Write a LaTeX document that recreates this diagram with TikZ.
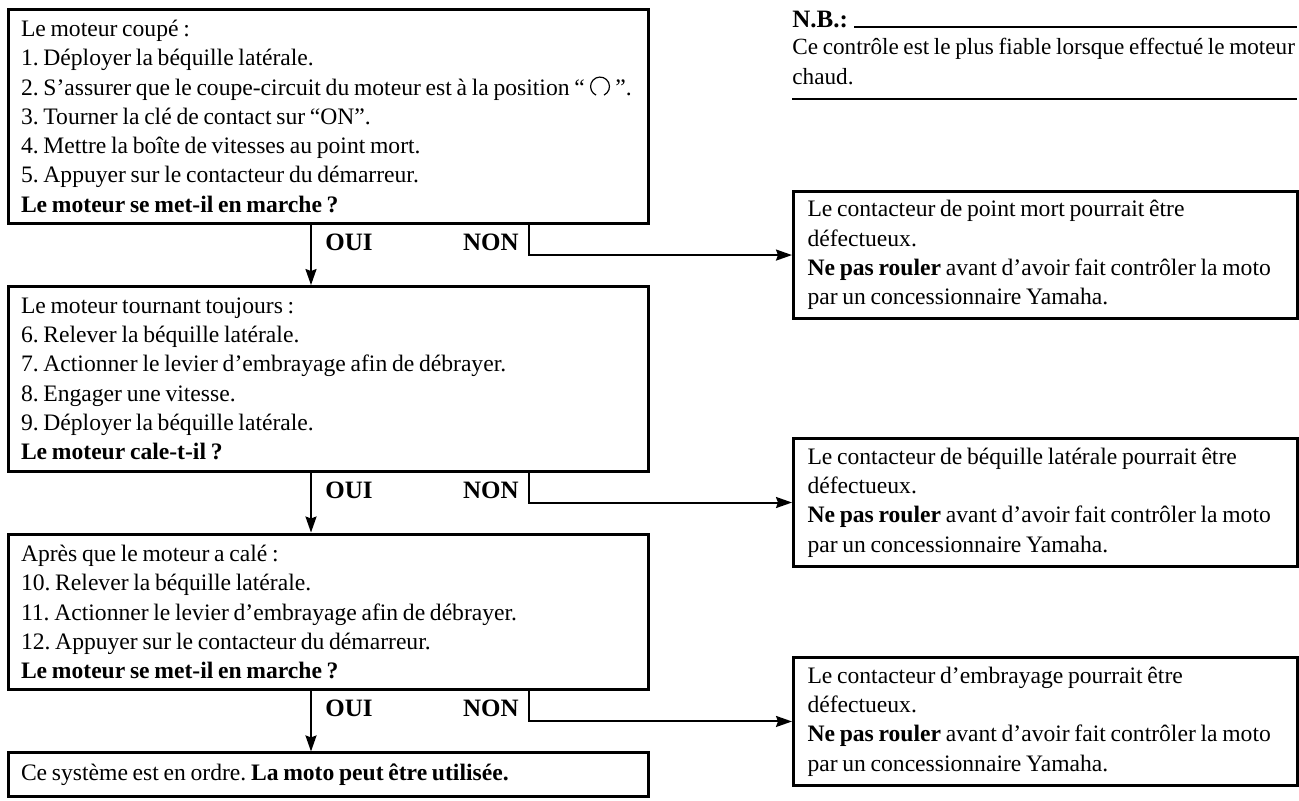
\documentclass[tikz,border=0pt]{standalone}
\usepackage{fontspec}
\setmainfont{Liberation Serif}[WordSpace=0.8]
\usetikzlibrary{arrows.meta, positioning, calc}

\newcommand{\offsym}{\tikz[baseline=-0.36em, x=1cm, y=1cm]\draw[line width=0.6pt] (-65:0.4em) arc (-65:245:0.4em);}
\frenchspacing

\begin{document}
\begin{tikzpicture}[
    x=0.5pt, y=-0.5pt,
    node distance=30pt,
    txt/.style={font=\fontsize{11.8}{14.65}\selectfont},
    stepbox/.style={txt, rectangle, draw, line width=1.5pt, align=justify,
                text width=307pt, inner xsep=6.5pt, inner ysep=5.5pt},
    notebox/.style={txt, rectangle, draw, line width=1.5pt, align=justify,
                text width=238pt, inner xsep=7pt, inner ysep=4.5pt},
    lbl/.style={font=\fontsize{12.5}{14.65}\selectfont\bfseries, inner sep=0pt},
    rule/.style={line width=1pt},
    arr/.style={-{Stealth[length=8pt, width=5.5pt, inset=1pt]}, line width=1pt}
]
\useasboundingbox (0,0) rectangle (1299,800);

\coordinate (oui) at (311,0);
\coordinate (non) at (529,0);
\coordinate (rx)  at (792,0);
\coordinate (rr)  at (1297,0);

% left column
\node[stepbox, anchor=north west] (b1) at (6.5,7.5) {Le moteur coupé :\\1. Déployer la béquille latérale.\\2. S’assurer que le coupe-circuit du moteur est à la position “\,\offsym\,”.\\3. Tourner la clé de contact sur “ON”.\\4. Mettre la boîte de vitesses au point mort.\\5. Appuyer sur le contacteur du démarreur.\\\textbf{Le moteur se met-il en marche ?}};
\node[stepbox, below=of b1] (b2) {Le moteur tournant toujours :\\6. Relever la béquille latérale.\\7. Actionner le levier d’embrayage afin de débrayer.\\8. Engager une vitesse.\\9. Déployer la béquille latérale.\\\textbf{Le moteur cale-t-il ?}};
\node[stepbox, below=of b2] (b3) {Après que le moteur a calé :\\10. Relever la béquille latérale.\\11. Actionner le levier d’embrayage afin de débrayer.\\12. Appuyer sur le contacteur du démarreur.\\\textbf{Le moteur se met-il en marche ?}};
\node[stepbox, below=of b3] (b4) {Ce système est en ordre. \textbf{La moto peut être utilisée.}};

\coordinate (m1) at ($(b1.south)!0.5!(b2.north)$);
\coordinate (m2) at ($(b2.south)!0.5!(b3.north)$);
\coordinate (m3) at ($(b3.south)!0.5!(b4.north)$);

% right column
\node[notebox, anchor=west] (r1) at (m1 -| rx) {Le contacteur de point mort pourrait être\\défectueux.\\\textbf{Ne pas rouler} avant d’avoir fait contrôler la moto\\par un concessionnaire Yamaha.};
\node[notebox, anchor=west] (r2) at (m2 -| rx) {Le contacteur de béquille latérale pourrait être\\défectueux.\\\textbf{Ne pas rouler} avant d’avoir fait contrôler la moto\\par un concessionnaire Yamaha.};
\node[notebox, anchor=west] (r3) at (m3 -| rx) {Le contacteur d’embrayage pourrait être\\défectueux.\\\textbf{Ne pas rouler} avant d’avoir fait contrôler la moto\\par un concessionnaire Yamaha.};

% OUI / NON
\foreach \i/\j in {1/2, 2/3, 3/4}{
  \draw[arr] (b\i.south -| oui) -- (b\j.north -| oui);
  \draw[arr] (b\i.south -| non) |- (r\i.west);
  \node[lbl, anchor=base west] (o\i) at ($(m\i -| oui)+(7pt,2.25pt)$) {OUI};
  \node[lbl, anchor=base east] (n\i) at ($(m\i -| non)+(-5pt,2.25pt)$) {NON};
}

% N.B.
\node[lbl, anchor=base west] (nb) at (792,27) {N.B.:};
\draw[rule] ($(nb.base east)+(3pt,0)$) -- (nb.base -| rr);
\node[font=\fontsize{11.6}{14.65}\selectfont, anchor=north west, align=left, inner sep=0pt] (nbt) at (792,38) {Ce contrôle est le plus fiable lorsque effectué le moteur\\chaud.};
\coordinate (nbl) at (792,99);
\draw[rule] (nbl) -- (nbl -| rr);
\end{tikzpicture}
\end{document}
